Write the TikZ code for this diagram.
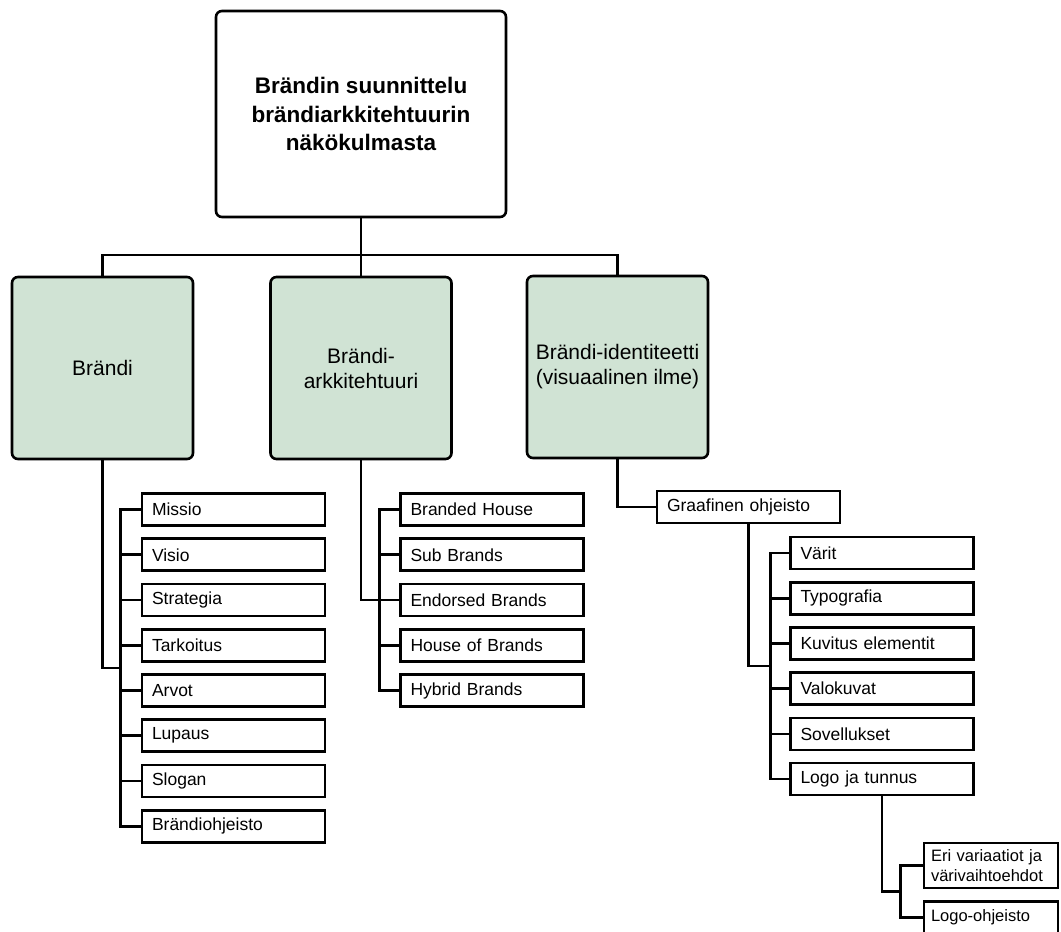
\documentclass[tikz,border=0pt]{standalone}
\usepackage{fontspec}
\setmainfont{Liberation Sans}
\definecolor{boxgreen}{RGB}{208,227,212}
\tikzset{
  rootbox/.style={draw, line width=2.6pt, rounded corners=6pt, minimum width=290pt,
    minimum height=206pt, align=center, font=\fontsize{22.5}{28.5}\selectfont\bfseries},
  mainbox/.style={draw, line width=2.6pt, rounded corners=6pt, fill=boxgreen,
    minimum width=181pt, minimum height=182pt, align=center, font=\fontsize{21}{25}\selectfont},
  itembox/.style={draw, line width=2.6pt, text width=163pt, inner xsep=10pt, inner ysep=0pt,
    minimum height=32pt, align=left, font=\fontsize{17.5}{21}\selectfont},
  conn/.style={line width=2.6pt}
}
\begin{document}
\begin{tikzpicture}[x=1pt,y=-1pt]
\useasboundingbox (0,0) rectangle (1061,932);
% top level
\node[rootbox] (root) at (361,114) {Brändin suunnittelu\\brändiarkkitehtuurin\\näkökulmasta};
\node[mainbox] (brandi) at (102.5,368) {Brändi};
\node[mainbox] (arch) at (361,368) {Brändi-\\arkkitehtuuri};
\node[mainbox] (ident) at (617.5,367) {Brändi-identiteetti\\(visuaalinen ilme)};
\coordinate (topbus) at (361,255);
\draw[conn] (root.south) -- (topbus);
\draw[conn] (brandi.north) |- (topbus) -| (ident.north);
\draw[conn] (arch.north) -- (arch.north |- topbus);

% Brändi
\node[itembox] (missio) at (233.5,509.5) {Missio};
\node[itembox] (visio) at (233.5,554.75) {Visio};
\node[itembox] (strategia) at (233.5,600) {Strategia};
\node[itembox] (tarkoitus) at (233.5,645.25) {Tarkoitus};
\node[itembox] (arvot) at (233.5,690.5) {Arvot};
\node[itembox] (lupaus) at (233.5,735.75) {Lupaus};
\node[itembox] (slogan) at (233.5,781) {Slogan};
\node[itembox] (bohje) at (233.5,826.25) {Brändiohjeisto};
\coordinate (lbus) at (122,668);
\draw[conn] (brandi.south) |- (lbus);
\draw[conn] (missio.west) -- ++(-20,0) |- (bohje.west);
\foreach \n in {visio,strategia,tarkoitus,arvot,lupaus,slogan}
  \draw[conn] (\n.west) -- ++(-20,0);

% Brändiarkkitehtuuri
\node[itembox] (branded) at (492,509.5) {Branded House};
\node[itembox] (sub) at (492,554.75) {Sub Brands};
\node[itembox] (endorsed) at (492,600) {Endorsed Brands};
\node[itembox] (houseof) at (492,645.25) {House of Brands};
\node[itembox] (hybrid) at (492,690.5) {Hybrid Brands};
\draw[conn] (arch.south) |- ([xshift=-20pt]endorsed.west);
\draw[conn] (branded.west) -- ++(-20,0) |- (hybrid.west);
\foreach \n in {sub,endorsed,houseof}
  \draw[conn] (\n.west) -- ++(-20,0);

% Brändi-identiteetti
\node[itembox] (graaf) at (748.5,507) {Graafinen ohjeisto};
\draw[conn] (ident.south) |- (graaf.west);
\node[itembox] (varit) at (882,553) {Värit};
\node[itembox] (typo) at (882,598.2) {Typografia};
\node[itembox] (kuvitus) at (882,643.4) {Kuvitus elementit};
\node[itembox] (valo) at (882,688.6) {Valokuvat};
\node[itembox] (sovel) at (882,733.8) {Sovellukset};
\node[itembox] (logo) at (882,779) {Logo ja tunnus};
\coordinate (rbus) at (771,666);
\draw[conn] (graaf.south) |- (rbus);
\draw[conn] (varit.west) -- ++(-19,0) |- (logo.west);
\foreach \n in {typo,kuvitus,valo,sovel}
  \draw[conn] (\n.west) -- ++(-19,0);

% Logo ja tunnus
\node[itembox, text width=120pt, minimum height=45pt, inner xsep=7pt, font=\fontsize{16.5}{20}\selectfont] (vari) at (991,865.5) {Eri variaatiot ja\\värivaihtoehdot};
\node[itembox, text width=120pt, inner xsep=7pt, font=\fontsize{16.5}{20}\selectfont] (logoohje) at (991,917.5) {Logo-ohjeisto};
\coordinate (bbus) at (901,891.5);
\draw[conn] (logo.south) |- (bbus);
\draw[conn] (vari.west) -- ++(-22,0) |- (logoohje.west);
\end{tikzpicture}
\end{document}
